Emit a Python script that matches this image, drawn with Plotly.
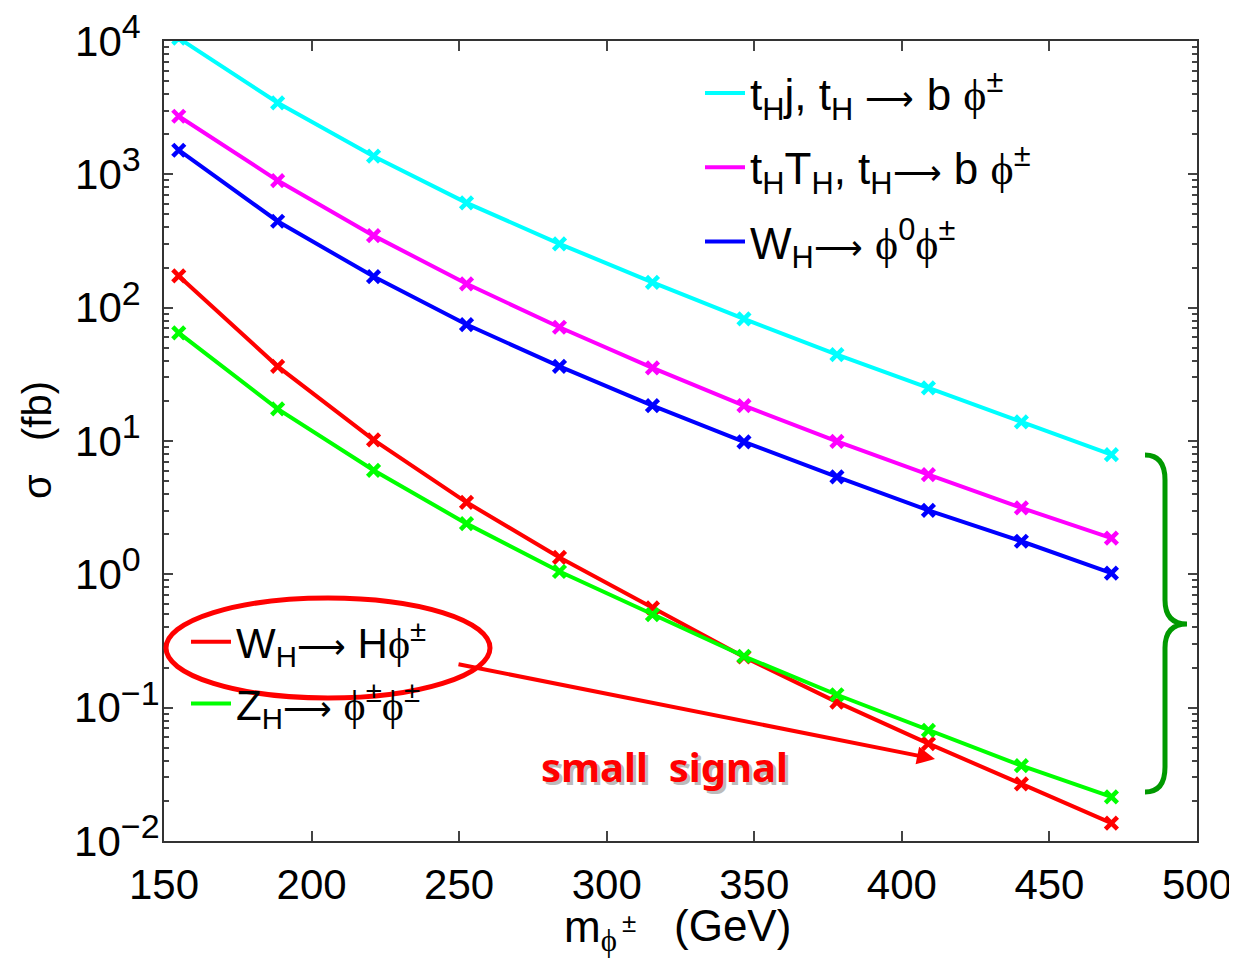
import plotly.graph_objects as go

# ---------------- data ----------------
m_phi = [155, 188.5, 221, 252.5, 284, 315.5, 346.5, 378, 409, 440.5, 471]

sigma_tHj = [10500, 3440, 1368, 611, 301, 155, 82.4, 44.5, 25.0, 13.9, 7.9]
sigma_tHTH = [2728, 898, 347, 151, 71.3, 35.4, 18.4, 9.95, 5.6, 3.15, 1.87]
sigma_WH_phi0 = [1516, 445, 171, 74.7, 36.3, 18.4, 9.86, 5.38, 3.02, 1.77, 1.02]
sigma_WH_H = [173, 36.3, 10.2, 3.47, 1.34, 0.56, 0.240, 0.110, 0.0537, 0.0268, 0.0136]
sigma_ZH = [64.7, 17.4, 6.03, 2.40, 1.05, 0.499, 0.243, 0.125, 0.0676, 0.0367, 0.0214]

PHI = "<span style='font-family:Liberation Serif'>ϕ</span>"
ARR = "<span style='font-size:34px'>⟶</span>"
series_names = [
    f"t<sub>H</sub>j, t<sub>H</sub> {ARR} b {PHI}<sup>±</sup>",
    f"t<sub>H</sub>T<sub>H</sub>, t<sub>H</sub>{ARR} b {PHI}<sup>±</sup>",
    f"W<sub>H</sub>{ARR} {PHI}<sup>0</sup>{PHI}<sup>±</sup>",
    f"W<sub>H</sub>{ARR} H{PHI}<sup>±</sup>",
    f"Z<sub>H</sub>{ARR} {PHI}<sup>±</sup>{PHI}<sup>±</sup>",
]
series_colors = ["#00FFFF", "#FF00FF", "#0000FF", "#FF0000", "#00FF00"]
series_legend = ["legend", "legend", "legend", "legend2", "legend2"]

x_ticks = [150, 200, 250, 300, 350, 400, 450, 500]
y_tick_vals = [1e-2, 1e-1, 1e0, 1e1, 1e2, 1e3, 1e4]
# exponents; non-negative ones padded with a figure space so that the "10" bases line up
y_exponents = ["−2", "−1", "0\u2007", "1\u2007", "2\u2007", "3\u2007", "4\u2007"]
y_tick_text = [f"10<sup><span style='font-size:34px'>{e}</span></sup>" for e in y_exponents]

FONT = "Liberation Sans, Arial, Helvetica, sans-serif"

# ---------------- geometry (page pixels -> paper) ----------------
OFF = 8  # default body margin of the html page
W, H = 1237 - OFF, 959 - OFF
L, T = 164 - OFF, 41 - OFF
R = W - (1197 - OFF)
B = H - (841 - OFF)
PW, PH = W - L - R, H - T - B


def px(x):
    return (x - OFF - L) / PW


def py(y):
    return (H - B - (y - OFF)) / PH


fig = go.Figure()

all_series = [sigma_tHj, sigma_tHTH, sigma_WH_phi0, sigma_WH_H, sigma_ZH]
for ys, c in zip(all_series, series_colors):
    fig.add_trace(go.Scatter(
        x=m_phi, y=ys, mode="lines+markers", showlegend=False,
        line=dict(color=c, width=4),
        marker=dict(symbol="x-thin", size=12, line=dict(color=c, width=4.5), color=c),
        cliponaxis=True,
    ))

# legend-only entries (line samples)
for name, c, lg in zip(series_names, series_colors, series_legend):
    fig.add_trace(go.Scatter(
        x=[None], y=[None], mode="lines", name=name, legend=lg,
        line=dict(color=c, width=4), legendgroup=name,
    ))

# ---------------- decorations ----------------
shapes = []
shapes.append(dict(type="circle", xref="paper", yref="paper",
                   x0=px(166), x1=px(490), y0=py(698), y1=py(598),
                   line=dict(color="#FF0000", width=5), layer="above"))

pts = [(1145, 455), (1165, 455), (1165, 480), (1165, 600), (1165, 624), (1187, 624),
       (1165, 624), (1165, 648), (1165, 767), (1165, 792), (1145, 792)]
p = [(px(a), py(b)) for a, b in pts]
path = (f"M {p[0][0]},{p[0][1]} Q {p[1][0]},{p[1][1]} {p[2][0]},{p[2][1]} "
        f"L {p[3][0]},{p[3][1]} Q {p[4][0]},{p[4][1]} {p[5][0]},{p[5][1]} "
        f"Q {p[6][0]},{p[6][1]} {p[7][0]},{p[7][1]} L {p[8][0]},{p[8][1]} "
        f"Q {p[9][0]},{p[9][1]} {p[10][0]},{p[10][1]}")
shapes.append(dict(type="path", xref="paper", yref="paper", path=path,
                   line=dict(color="#009900", width=5)))

annotations = []
annotations.append(dict(xref="paper", yref="paper", x=px(935), y=py(759),
                        ax=457 - 935, ay=664 - 759, text="", showarrow=True,
                        arrowhead=2, arrowsize=0.9, arrowwidth=4, arrowcolor="#FF0000",
                        standoff=0, startstandoff=0))
annotations.append(dict(xref="paper", yref="paper", x=px(667), y=py(769),
                        text="<b>small  signal</b>", showarrow=False,
                        font=dict(family="Noto Sans, DejaVu Sans", size=40, color="#BBBBBB"),
                        xanchor="center", yanchor="middle"))
annotations.append(dict(xref="paper", yref="paper", x=px(664), y=py(766),
                        text="<b>small  signal</b>", showarrow=False,
                        font=dict(family="Noto Sans, DejaVu Sans", size=40, color="#FF0000"),
                        xanchor="center", yanchor="middle"))
# axis titles
annotations.append(dict(xref="paper", yref="paper", x=px(37), y=py(440),
                        text="σ   (fb)", textangle=-90, showarrow=False,
                        font=dict(family=FONT, size=40, color="black"),
                        xanchor="center", yanchor="middle"))
annotations.append(dict(xref="paper", yref="paper", x=px(562), y=py(900),
                        text=f"m<sub>{PHI}</sub>", showarrow=False,
                        font=dict(family=FONT, size=44, color="black"),
                        xanchor="left", yanchor="top"))
annotations.append(dict(xref="paper", yref="paper", x=px(620), y=py(906),
                        text="±", showarrow=False,
                        font=dict(family=FONT, size=26, color="black"),
                        xanchor="left", yanchor="top"))
annotations.append(dict(xref="paper", yref="paper", x=px(672), y=py(899),
                        text="(GeV)", showarrow=False,
                        font=dict(family=FONT, size=44, color="black"),
                        xanchor="left", yanchor="top"))

axis_common = dict(
    showline=True, linecolor="#333333", linewidth=2, mirror="allticks",
    ticks="inside", tickcolor="#444444", tickwidth=1.5,
    showgrid=False, zeroline=False, automargin=False, ticklabeloverflow="allow",
    tickfont=dict(family=FONT, size=42, color="black"),
)

fig.update_layout(
    width=W, height=H,
    margin=dict(l=L, r=R, t=T, b=B),
    paper_bgcolor="white", plot_bgcolor="white",
    font=dict(family=FONT, color="black"),
    xaxis=dict(range=[150, 500], tickvals=x_ticks, ticklen=10,
               ticklabelstandoff=6, **axis_common),
    yaxis=dict(type="log", range=[-2, 4], tickvals=y_tick_vals, ticktext=y_tick_text,
               ticklen=9, ticklabelstandoff=-6,
               minor=dict(ticks="inside", ticklen=5, tickcolor="#444444", dtick="D1",
                          showgrid=False),
               **axis_common),
    legend=dict(x=px(700), y=py(58), xanchor="left", yanchor="top",
                bgcolor="rgba(0,0,0,0)", font=dict(family=FONT, size=44, color="black"),
                itemwidth=40, tracegroupgap=14),
    legend2=dict(x=px(186), y=py(608), xanchor="left", yanchor="top",
                 bgcolor="rgba(0,0,0,0)", font=dict(family=FONT, size=42, color="black"),
                 itemwidth=40, tracegroupgap=4),
    shapes=shapes,
    annotations=annotations,
)

fig.write_html("out.html")
